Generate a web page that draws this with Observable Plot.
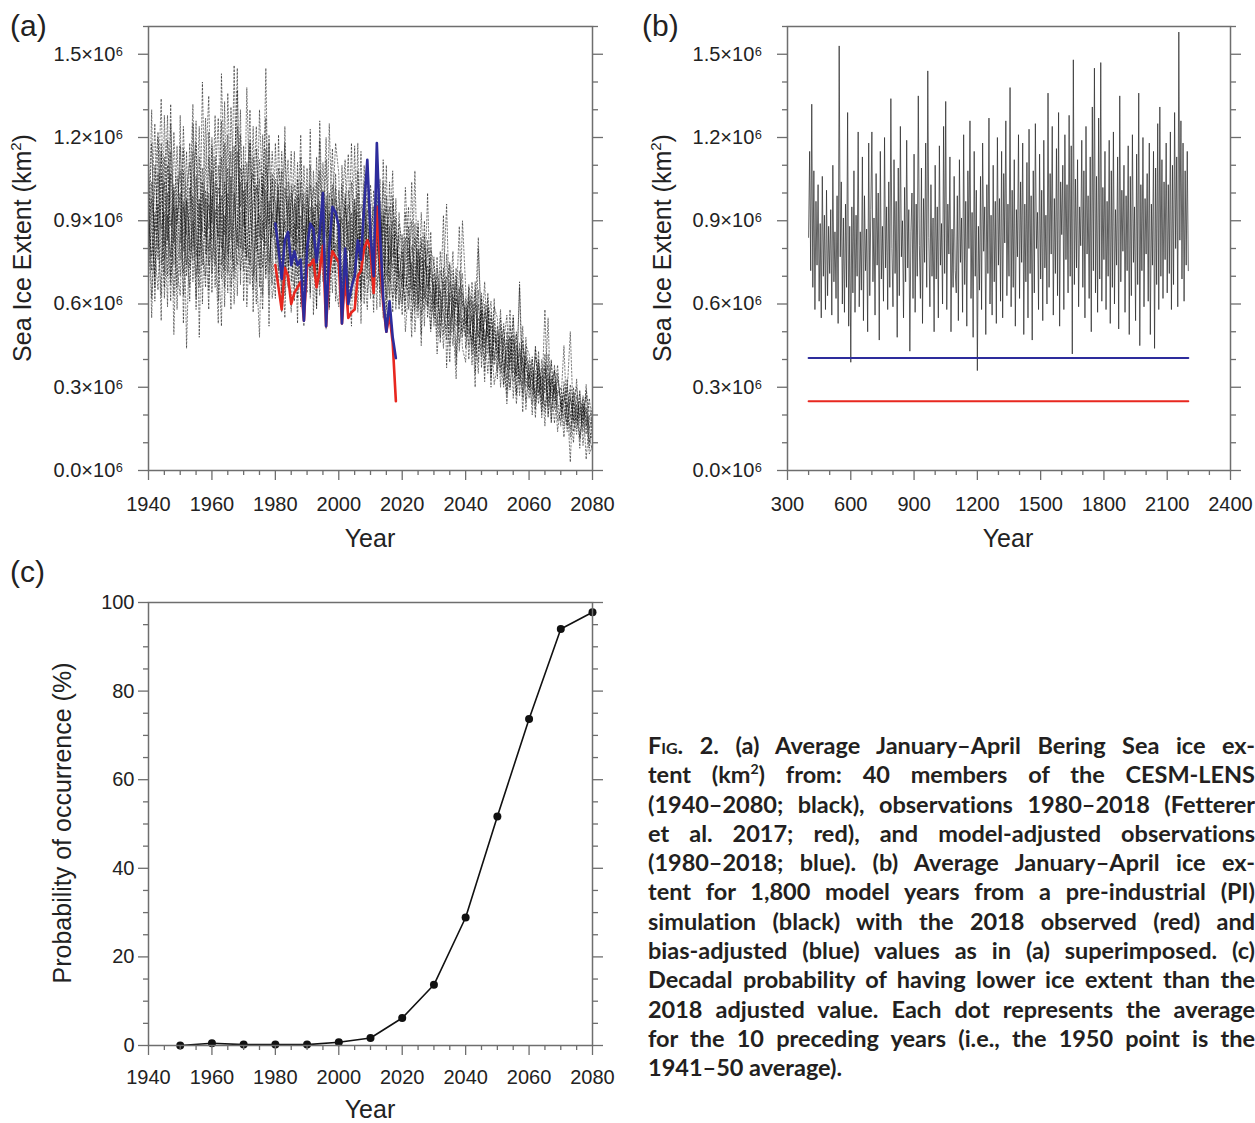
<!DOCTYPE html>
<html><head><meta charset="utf-8">
<script src="https://cdn.jsdelivr.net/npm/d3@7"></script>
<script src="https://cdn.jsdelivr.net/npm/@observablehq/plot@0.6"></script>
<style>
body{margin:0;background:#fff;}
#fig{position:relative;width:1255px;height:1123px;font-family:"Liberation Sans",Arial,sans-serif;color:#222;overflow:hidden;}
.pl{position:absolute;}
.t{position:absolute;white-space:nowrap;line-height:1;}
.panel{font-size:30px;transform:translate(0,-50%);}
.ylab{font-size:25px;transform:translate(-50%,-50%) rotate(-90deg);}
.xlab{font-size:25px;transform:translate(-50%,-50%);}
#cap{position:absolute;left:648px;top:731px;width:607px;font-family:Lato,"Open Sans",sans-serif;font-weight:700;font-size:23.5px;line-height:29.3px;color:#231f20;}
#cap div{text-align:justify;text-align-last:justify;white-space:nowrap;}
#cap div.last{text-align:left;text-align-last:left;}
</style>
</head><body>
<div id="fig"></div>
<script>
// ---------- Panel (a): CESM-LENS members (units of 10^4 km^2), 1940..2080 ----------
const ensStartYear = 1940;
const ens1 = [95,72,110,84,63,128,90,77,101,58, 88,116,70,95,132,81,66,104,92,74, 120,85,61,143,97,78,106,69,115,88, 72,138,94,81,60,112,99,127,75,90, 105,66,92,118,80,57,96,87,121,74, 91,62,108,85,119,73,96,58,89,102, 70,95,112,64,83,98,57,91,78,106, 68,84,99,59,112,76,63,90,71,85, 62,78,95,54,70,88,49,81,66,73, 58,77,46,69,96,52,63,41,72,60, 49,66,38,57,84,44,55,62,35,51, 42,58,31,47,36,55,28,44,39,33, 30,41,22,37,26,58,19,34,28,38, 21,30,14,26,18,33,11,24,16,20, 13];
const ens2 = [78,104,66,120,87,93,59,115,82,98, 108,63,97,79,125,88,71,140,84,96, 83,102,127,74,92,64,131,96,80,109, 97,76,119,88,68,105,83,145,71,93, 80,101,73,95,112,68,89,78,104,63, 99,84,70,113,78,94,66,125,87,71, 88,67,100,79,118,72,85,62,97,76, 82,95,66,77,104,58,88,70,61,93, 74,57,88,65,108,60,77,52,83,69, 66,52,79,58,47,74,55,68,43,61, 57,45,68,50,39,62,46,54,33,48, 45,37,53,29,48,40,34,66,26,41, 36,27,44,31,21,39,25,33,17,29, 27,19,33,12,25,17,29,9,22,15, 19];
const ens3 = [112,85,70,99,134,76,92,61,103,86, 70,95,83,61,104,118,77,93,127,65, 99,74,110,88,66,121,83,146,90,72, 85,111,67,99,124,79,58,101,89,115, 93,77,108,63,99,84,115,70,88,96, 76,103,88,66,97,80,112,69,84,93, 95,74,63,101,86,70,108,79,66,89, 76,62,90,82,55,99,74,85,64,78, 69,84,58,75,63,90,56,71,80,51, 71,59,65,49,78,57,45,70,53,64, 53,61,42,68,48,57,36,59,44,40, 50,35,46,56,30,43,49,27,45,37, 33,40,24,35,29,42,20,31,36,23, 24,45,16,27,20,13,28,18,23,8, 21];
const ens4 = [67,93,125,80,107,71,119,96,63,91, 100,79,115,73,90,62,98,86,109,135, 76,94,84,113,59,100,88,72,124,95, 110,83,74,96,102,66,121,87,97,62, 71,95,84,77,66,103,81,99,59,110, 85,77,95,59,108,86,75,100,71,82, 77,103,69,90,62,94,81,115,71,58, 92,71,79,105,66,84,95,57,80,69, 79,66,72,90,50,67,82,63,59,86, 52,70,61,44,67,75,50,62,57,48, 62,49,56,41,65,37,60,48,52,31, 38,49,42,33,52,44,24,38,47,30, 40,32,28,43,19,34,38,26,30,21, 18,25,30,21,10,27,19,24,13,26, 16];
const ens5 = [101,62,88,107,74,95,128,70,86,117, 82,124,90,66,99,77,113,60,101,87, 108,66,96,80,133,71,99,117,63,104, 79,95,130,70,88,92,73,110,100,67, 118,88,64,102,91,76,98,62,83,100, 70,95,80,104,67,89,120,78,98,61, 83,91,76,58,104,80,69,96,88,64, 74,101,83,68,88,95,71,62,98,60, 85,70,63,81,74,55,93,68,60,77, 63,48,72,66,55,61,79,38,64,71, 44,58,63,35,55,50,68,42,57,46, 47,41,30,50,39,56,34,46,21,43, 26,37,33,24,40,28,35,17,32,27, 30,22,17,31,24,15,21,26,4,18, 23];
const ens6 = [86,118,79,65,96,104,83,132,74,106, 94,71,102,111,68,93,124,82,70,113, 89,128,71,99,85,109,66,92,137,80, 101,68,87,113,79,130,96,71,86,105, 84,109,98,71,88,115,66,93,100,79, 109,72,93,81,63,101,84,91,116,75, 101,79,95,84,70,117,76,88,60,98, 88,66,76,93,80,62,104,77,86,72, 66,102,76,61,84,71,65,90,55,80, 74,62,55,73,60,45,67,59,88,50, 59,51,47,65,43,58,40,53,61,38, 52,44,38,27,45,35,50,31,41,25, 35,29,41,32,25,37,23,40,22,33, 26,16,24,19,28,22,12,20,27,14, 11];
const ens7 = [91,77,104,122,86,66,110,88,95,73, 63,97,85,118,80,106,92,74,98,79, 95,113,87,69,104,91,76,100,82,121, 88,104,80,65,116,84,107,92,63,99, 97,72,115,86,104,91,74,111,69,88, 80,110,75,96,90,68,99,82,64,107, 73,86,98,66,93,59,100,71,84,94, 62,79,91,74,61,89,68,96,75,58, 71,61,80,69,57,79,72,58,74,64, 60,67,52,63,70,49,58,73,46,55, 48,63,53,44,60,47,51,35,55,43, 36,46,51,39,29,47,41,36,28,48, 31,24,36,27,37,21,30,39,25,35, 23,28,20,15,26,30,17,22,19,10, 15];
const ens8 = [73,98,86,91,115,81,100,67,122,89, 117,86,74,102,93,70,87,109,78,100, 71,90,102,92,76,98,115,84,74,93, 93,77,100,107,85,73,90,81,118,84, 89,98,81,90,74,96,103,82,92,67, 94,88,102,72,86,97,70,93,79,98, 90,64,85,96,77,88,93,66,104,73, 96,74,87,64,94,70,81,73,91,66, 60,75,84,72,66,80,61,76,70,62, 55,73,64,56,51,68,62,52,60,67, 52,56,45,60,50,41,57,49,39,54, 40,52,35,43,48,32,38,42,35,39, 29,35,26,39,30,23,33,28,36,18, 20,26,23,29,14,21,25,16,29,21, 20];
const ens9 = [99,55,93,76,118,62,85,107,49,95, 76,108,44,89,115,58,96,80,66,122, 64,104,79,52,118,86,58,101,145,67, 117,59,85,124,73,48,103,69,121,80, 62,121,77,55,97,83,61,105,74,52, 102,64,89,58,126,81,51,86,103,66, 59,110,81,72,52,97,84,61,110,80, 80,57,104,70,92,51,84,108,58,89, 82,50,66,104,59,76,45,85,64,50, 68,42,59,92,37,64,54,33,66,44, 39,67,58,30,80,53,32,64,41,59, 55,30,48,37,58,26,45,33,52,22, 38,20,45,28,34,16,42,22,31,14, 25,12,28,50,17,24,8,27,20,6, 9];
const ens10 = [82,130,61,96,54,113,70,125,92,66, 128,53,98,84,76,126,48,100,87,58, 117,82,53,126,72,136,95,60,88,130, 61,99,118,57,103,97,63,116,52,107, 76,103,57,124,68,100,90,53,113,83, 64,123,56,90,74,111,88,59,94,118, 107,55,92,114,66,75,118,53,95,69, 103,88,58,97,73,110,56,99,82,70, 56,93,70,48,89,58,84,62,100,57, 77,56,48,68,62,39,72,57,50,90, 66,40,61,48,35,64,44,58,30,62, 33,55,43,24,41,49,27,68,31,45, 42,34,19,40,23,30,55,18,38,25, 16,32,26,3,30,18,23,14,31,12, 7];

// Observations 1980..2018 (10^6 km^2)
const obsStartYear = 1980;
const obsRed  = [0.74,0.66,0.58,0.73,0.70,0.60,0.64,0.66,0.68,0.54, 0.74,0.74,0.76,0.66,0.72,0.81,0.52,0.72,0.79,0.77, 0.75,0.53,0.70,0.55,0.57,0.58,0.70,0.72,0.80,0.83, 0.80,0.64,0.95,0.76,0.60,0.50,0.56,0.46,0.25];
const obsBlue = [0.89,0.80,0.69,0.83,0.86,0.74,0.79,0.74,0.76,0.54, 0.80,0.89,0.87,0.75,0.86,1.00,0.52,0.80,0.95,0.93, 0.88,0.53,0.80,0.60,0.66,0.70,0.83,0.76,0.95,1.12, 0.85,0.70,1.18,0.86,0.62,0.50,0.61,0.48,0.405];

// ---------- Panel (b): pre-industrial run, every 5th model year 400..2200 (10^4 km^2) ----------
const piStartYear = 400, piStep = 5;
const piValues = [
84,115,72,132,66,108,58,97,74,103,61,89,55,106,70,92,58,101,63,88,
71,94,56,110,68,86,62,99,53,153,77,104,60,91,57,96,66,129,52,88,
39,95,64,108,57,92,70,122,59,86,65,113,54,99,72,87,50,118,63,94,
122,68,91,56,107,74,100,47,115,69,88,61,120,73,95,58,104,66,134,80,
59,112,71,97,48,109,63,124,77,90,55,102,68,119,73,94,43,86,100,62,
114,57,96,70,135,81,62,109,53,98,75,118,66,144,84,59,103,70,91,50,
110,69,95,55,117,74,89,60,124,71,133,58,96,78,113,50,87,66,106,72,
64,99,54,112,75,91,57,121,67,97,52,108,80,126,62,93,48,115,70,101,
36,88,65,106,58,118,79,95,49,103,71,127,60,92,56,110,68,97,53,120,
74,98,61,115,55,107,82,126,63,96,70,138,59,101,66,112,52,94,77,121,
62,104,75,118,49,96,68,111,55,123,71,99,47,108,64,125,80,93,58,114,
69,101,54,119,73,92,60,136,66,107,78,124,56,98,71,116,63,129,52,104,
85,110,58,121,76,103,64,128,70,117,42,148,67,105,73,112,59,95,81,119,
66,108,55,124,78,99,62,113,50,131,72,145,64,106,57,127,69,147,61,102,
76,115,58,97,70,119,53,108,66,122,60,94,74,113,51,135,68,101,79,110,
57,99,72,117,49,106,63,121,75,95,54,114,67,136,45,103,72,120,59,98,
78,107,61,118,49,96,74,115,44,109,67,125,58,131,70,112,62,104,76,118,
64,103,71,122,58,110,67,129,80,113,59,158,83,126,69,118,61,108,74,115,
72];

// ---------- Panel (c): decadal probability (%) ----------
const probYears = [1950,1960,1970,1980,1990,2000,2010,2020,2030,2040,2050,2060,2070,2080];
const probValues = [0,0.5,0.2,0.2,0.2,0.75,1.7,6.2,13.7,28.9,51.7,73.7,94.0,97.8];

// tick labels
const aXTicks = [1940,1960,1980,2000,2020,2040,2060,2080];
const bXTicks = [300,600,900,1200,1500,1800,2100,2400];
const iceTicks = [0,300000,600000,900000,1200000,1500000];
const probTicks = [0,20,40,60,80,100];

const caption = [
  '<span style="font-variant:small-caps">Fig.</span> 2. (a) Average January–April Bering Sea ice ex-',
  'tent (km<sup style="font-size:0.6em;line-height:0">2</sup>) from: 40 members of the CESM-LENS',
  '(1940–2080; black), observations 1980–2018 (Fetterer',
  'et al. 2017; red), and model-adjusted observations',
  '(1980–2018; blue). (b) Average January–April ice ex-',
  'tent for 1,800 model years from a pre-industrial (PI)',
  'simulation (black) with the 2018 observed (red) and',
  'bias-adjusted (blue) values as in (a) superimposed. (c)',
  'Decadal probability of having lower ice extent than the',
  '2018 adjusted value. Each dot represents the average',
  'for the 10 preceding years (i.e., the 1950 point is the',
  '1941–50 average).'
];

// ---------- build tables ----------
const members = [ens1,ens2,ens3,ens4,ens5,ens6,ens7,ens8,ens9,ens10];
const ensTable = members.flatMap((arr,m)=>arr.map((v,j)=>({m, year:ensStartYear+j, v:v*1e4})));
const obsTable = obsRed.map((r,j)=>({year:obsStartYear+j, red:r*1e6, blue:obsBlue[j]*1e6}));
const piTable = piValues.map((v,j)=>({year:piStartYear+j*piStep, v:v*1e4}));
const piEnd = piStartYear+(piValues.length-1)*piStep;
const last = obsTable[obsTable.length-1];
const refRed = [{year:piStartYear,v:last.red},{year:piEnd,v:last.red}];
const refBlue = [{year:piStartYear,v:last.blue},{year:piEnd,v:last.blue}];
const probTable = probYears.map((y,j)=>({year:y, p:probValues[j]}));

const RED = "#e8271f", BLUE = "#2d2c9c", AX = "#6e6e6e", TXT = "#222";
const minorOf = (lo,hi,step,major)=>d3.range(lo,hi+step/2,step).filter(v=>!major.some(M=>Math.abs(M-v)<1e-9));
const iceFmt = d=>`${(d/1e6).toFixed(1)}×10⁶`;

function axes({xMajor,xMinor,yMajor,yMinor,yFmt,xPad,yPad}){
  const common = {stroke:AX, strokeWidth:1.3, label:null};
  return [
    Plot.axisX({...common, anchor:"bottom", ticks:xMajor, tickSize:10, tickPadding:xPad, tickFormat:d=>String(d), fill:TXT, fontSize:20}),
    Plot.axisX({...common, anchor:"bottom", ticks:xMinor, tickSize:5, tickFormat:()=>""}),
    Plot.axisY({...common, anchor:"left", ticks:yMajor, tickSize:10, tickPadding:yPad, tickFormat:yFmt, fill:TXT, fontSize:20}),
    Plot.axisY({...common, anchor:"left", ticks:yMinor, tickSize:5, tickFormat:()=>""}),
    Plot.axisY({...common, anchor:"right", ticks:yMajor, tickSize:10, tickFormat:()=>""}),
    Plot.axisY({...common, anchor:"right", ticks:yMinor, tickSize:5, tickFormat:()=>""}),
    Plot.frame({stroke:AX, strokeWidth:1.5})
  ];
}
const baseStyle = {fontFamily:'"Liberation Sans",Arial,sans-serif', fontSize:"20px", color:TXT, background:"transparent", overflow:"visible"};

const fig = document.getElementById("fig");
function place(el,left,top){ el.classList.add("pl"); el.style.left=left+"px"; el.style.top=top+"px"; fig.appendChild(el); }
function txt(html,cls,left,top){ const d=document.createElement("div"); d.className="t "+cls; d.innerHTML=html; d.style.left=left+"px"; d.style.top=top+"px"; fig.appendChild(d); }

// Panel (a)
const pa = Plot.plot({
  width:620, height:515, marginLeft:148, marginRight:28, marginTop:26, marginBottom:45,
  style:baseStyle,
  x:{domain:[1940,2080]}, y:{domain:[0,1.6e6]},
  marks:[
    Plot.line(ensTable,{x:"year",y:"v",z:"m",stroke:"#000",strokeWidth:1,strokeDasharray:"1.6,2",strokeOpacity:0.5}),
    Plot.line(obsTable,{x:"year",y:"red",stroke:RED,strokeWidth:2.6}),
    Plot.line(obsTable,{x:"year",y:"blue",stroke:BLUE,strokeWidth:2.6}),
    ...axes({xMajor:aXTicks,xMinor:minorOf(1940,2080,5,aXTicks),yMajor:iceTicks,yMinor:minorOf(0,1600000,100000,iceTicks),yFmt:iceFmt,xPad:16,yPad:15})
  ]
});
place(pa,0,0);

// Panel (b)
const pb = Plot.plot({
  width:615, height:515, marginLeft:147, marginRight:25, marginTop:26, marginBottom:45,
  style:baseStyle,
  x:{domain:[300,2400]}, y:{domain:[0,1.6e6]},
  marks:[
    Plot.line(piTable,{x:"year",y:"v",stroke:"#2a2a2a",strokeWidth:0.9,strokeOpacity:0.8}),
    Plot.line(refBlue,{x:"year",y:"v",stroke:BLUE,strokeWidth:2}),
    Plot.line(refRed,{x:"year",y:"v",stroke:RED,strokeWidth:2}),
    ...axes({xMajor:bXTicks,xMinor:minorOf(300,2400,100,bXTicks),yMajor:iceTicks,yMinor:minorOf(0,1600000,100000,iceTicks),yFmt:iceFmt,xPad:16,yPad:15})
  ]
});
place(pb,640,0);

// Panel (c)
const pc = Plot.plot({
  width:620, height:514, marginLeft:148, marginRight:28, marginTop:26, marginBottom:45,
  style:baseStyle,
  x:{domain:[1940,2080]}, y:{domain:[0,100]},
  marks:[
    Plot.line(probTable,{x:"year",y:"p",stroke:"#111",strokeWidth:1.6}),
    Plot.dot(probTable,{x:"year",y:"p",r:4,fill:"#111"}),
    ...axes({xMajor:aXTicks,xMinor:minorOf(1940,2080,5,aXTicks),yMajor:probTicks,yMinor:minorOf(0,100,5,probTicks),yFmt:d=>String(d),xPad:14,yPad:4})
  ]
});
place(pc,0,576);

// Labels
txt("(a)","panel",10,26);
txt("(b)","panel",642,26);
txt("(c)","panel",10,572);
txt("Sea Ice Extent (km<sup style='font-size:0.6em;line-height:0'>2</sup>)","ylab",22,248);
txt("Sea Ice Extent (km<sup style='font-size:0.6em;line-height:0'>2</sup>)","ylab",662,248);
txt("Probability of occurrence (%)","ylab",62,823);
txt("Year","xlab",370,538);
txt("Year","xlab",1008,538);
txt("Year","xlab",370,1109);

const cap = document.createElement("div"); cap.id="cap";
cap.innerHTML = caption.map((l,i)=>`<div class="${i===caption.length-1?'last':''}">${l}</div>`).join("");
fig.appendChild(cap);
// fit each full caption line to the column width by letter spacing (the last line stays natural)
const W = 607;
cap.querySelectorAll("div").forEach(div=>{
  if (div.classList.contains("last")) return;
  const probe = document.createElement("span");
  probe.innerHTML = div.innerHTML; probe.style.whiteSpace="nowrap";
  div.innerHTML = ""; div.appendChild(probe);
  const w = probe.getBoundingClientRect().width;
  const n = probe.textContent.length;
  div.innerHTML = probe.innerHTML;
  div.style.letterSpacing = Math.max(-1.2, Math.min(1.6, (W - w - 1) / n)) + "px";
});
</script>
</body></html>
